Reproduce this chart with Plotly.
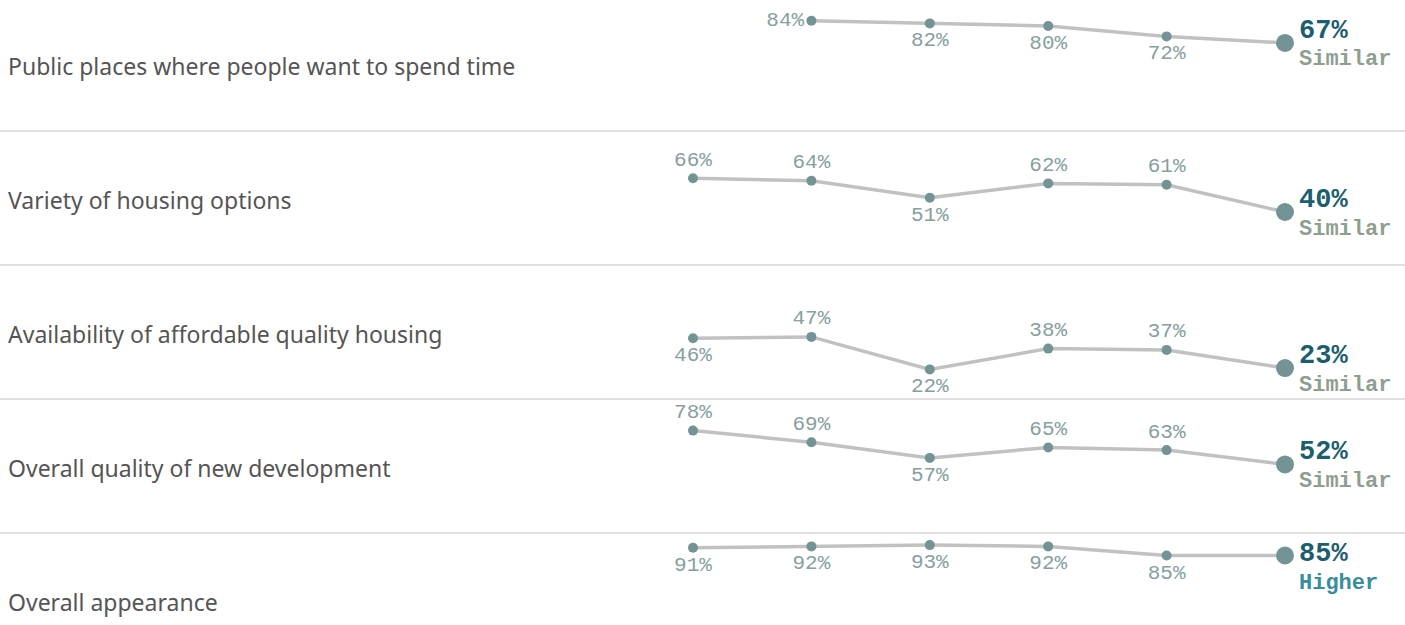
import plotly.graph_objects as go

# ---------------- data ----------------
measures = [
    "Public places where people want to spend time",
    "Variety of housing options",
    "Availability of affordable quality housing",
    "Overall quality of new development",
    "Overall appearance",
]
periods = [1, 2, 3, 4, 5, 6]
public_places = [None, 84, 82, 80, 72, 67]
housing_variety = [66, 64, 51, 62, 61, 40]
affordable_housing = [46, 47, 22, 38, 37, 23]
new_development = [78, 69, 57, 65, 63, 52]
appearance = [91, 92, 93, 92, 85, 85]
comparison = ["Similar", "Similar", "Similar", "Similar", "Higher"]
# label placement for each historical point (t = above, b = below, l = left)
label_side = [
    ["b", "l", "b", "b", "b", ""],
    ["t", "t", "b", "t", "t", ""],
    ["b", "t", "b", "t", "t", ""],
    ["t", "t", "b", "t", "t", ""],
    ["b", "b", "b", "b", "b", ""],
]
series = [public_places, housing_variety, affordable_housing, new_development, appearance]

# ---------------- layout constants ----------------
W, H = 1405, 625
PX_PER_PCT = 1.3
ROW_STEP = 134
ZERO_OFFSET = 130         # pixel of 0% in first row
X0_PX, X_STEP = 693, 118.4

LINE_COLOR = "#c1c1c1"
DOT_COLOR = "#739394"
LABEL_COLOR = "#86a0a0"
VALUE_COLOR = "#1d5e6e"
STATUS_COLORS = {"Similar": "#8f9f8f", "Higher": "#3b8d9c", "Lower": "#b5651d"}
SEP_COLOR = "#d6d6d6"
MONO = "Liberation Mono, Courier New, monospace"

pos_map = {"t": "top center", "b": "bottom center", "l": "middle left", "": "middle center"}

fig = go.Figure()
annotations = []
shapes = []

xrange_ = [(0 - X0_PX) / X_STEP + 1, (W - X0_PX) / X_STEP + 1]

for k, (name, vals) in enumerate(zip(measures, series)):
    zero_px = ZERO_OFFSET + ROW_STEP * k
    top_px = ROW_STEP * k
    bot_px = min(ROW_STEP * k + 131, H)
    dom = [(H - bot_px) / H, (H - top_px) / H]
    rng = [(zero_px - bot_px) / PX_PER_PCT, (zero_px - top_px) / PX_PER_PCT]
    ax = "" if k == 0 else str(k + 1)

    n = len(vals)
    texts = [("" if (v is None or i == n - 1) else f"{v}%") for i, v in enumerate(vals)]
    sizes = [18 if i == n - 1 else 10 for i in range(n)]
    fig.add_trace(go.Scatter(
        x=periods, y=vals, mode="lines+markers+text",
        xaxis="x" + ax, yaxis="y" + ax,
        line=dict(color=LINE_COLOR, width=3.5),
        marker=dict(color=DOT_COLOR, size=sizes, opacity=1, line=dict(width=0)),
        text=texts, textposition=[pos_map[s] for s in label_side[k]],
        textfont=dict(family=MONO, size=21, color=LABEL_COLOR),
        hoverinfo="skip", showlegend=False, cliponaxis=False,
    ))

    fig.layout["xaxis" + ax] = dict(range=xrange_, domain=[0, 1], visible=False,
                                    anchor="y" + ax, fixedrange=True)
    fig.layout["yaxis" + ax] = dict(range=rng, domain=dom, visible=False,
                                    anchor="x" + ax, fixedrange=True)

    # latest value + comparison label
    last = vals[-1]
    pt_px = zero_px - last * PX_PER_PCT
    sep_above = top_px - 3 if k > 0 else 0
    lab_px = max(pt_px - 12, sep_above + 21) if k > 0 else pt_px - 12
    annotations.append(dict(
        x=periods[-1], y=last, xref="x" + ax, yref="y" + ax,
        text=f"<b>{last}%</b>", showarrow=False, xanchor="left", yanchor="middle",
        xshift=12, yshift=pt_px - lab_px,
        font=dict(family=MONO, size=27, color=VALUE_COLOR)))
    annotations.append(dict(
        x=periods[-1], y=last, xref="x" + ax, yref="y" + ax,
        text=f"<b>{comparison[k]}</b>", showarrow=False, xanchor="left", yanchor="middle",
        xshift=12, yshift=pt_px - (lab_px + 29),
        font=dict(family=MONO, size=22, color=STATUS_COLORS[comparison[k]])))

    # row title
    annotations.append(dict(
        x=0, y=(H - (top_px + 66)) / H, xref="paper", yref="paper",
        text=name, showarrow=False, xanchor="left", yanchor="middle", xshift=6,
        font=dict(family="Noto Sans, Lato, sans-serif", size=23, color="#555555")))

    if k > 0:
        ypx = top_px - 3
        shapes.append(dict(type="line", xref="paper", yref="paper",
                           x0=0, x1=1, y0=(H - ypx) / H, y1=(H - ypx) / H,
                           line=dict(color=SEP_COLOR, width=1.5)))

fig.update_layout(
    width=W, height=H, margin=dict(l=0, r=0, t=0, b=0),
    paper_bgcolor="white", plot_bgcolor="white",
    annotations=annotations, shapes=shapes,
)
fig.write_html("out.html", config={"displayModeBar": False},
               post_script="document.body.style.margin='0';document.body.style.overflow='hidden';")
